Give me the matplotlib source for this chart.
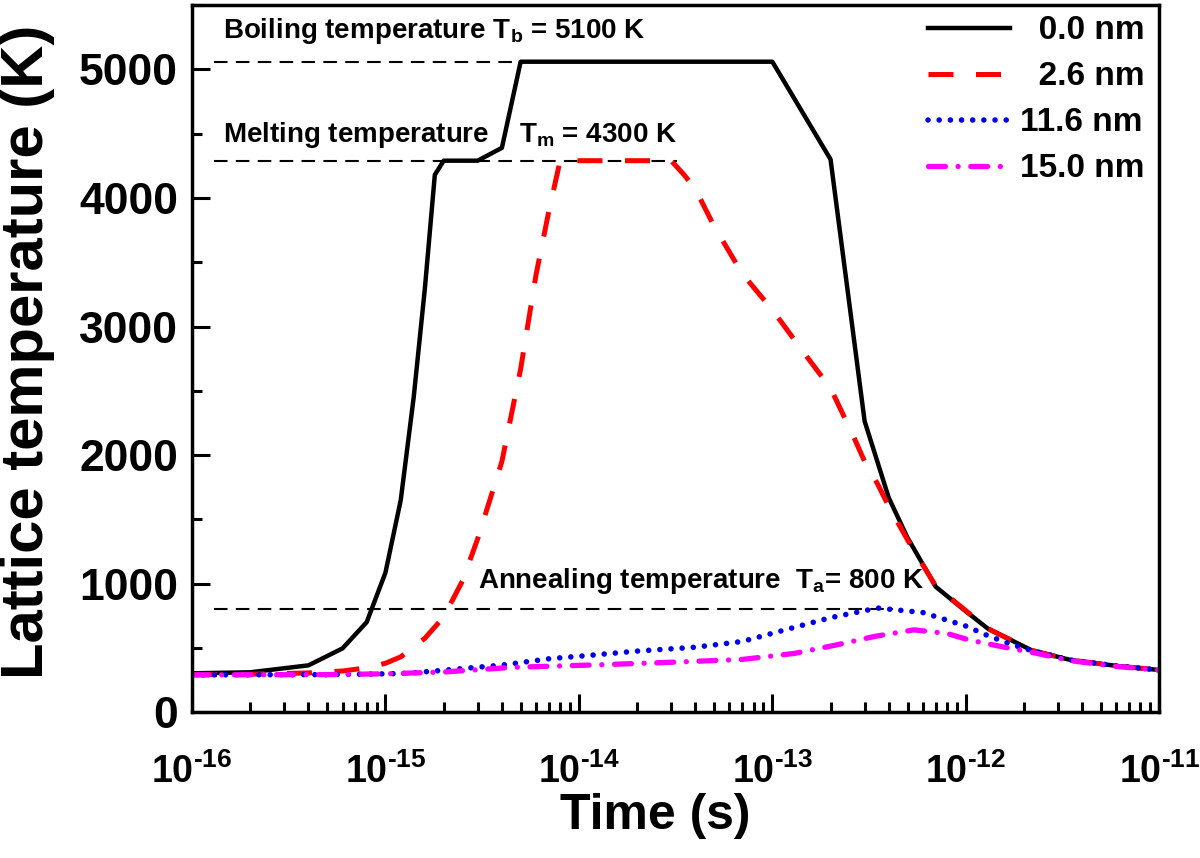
import numpy as np
import matplotlib
matplotlib.use('Agg')
import matplotlib.pyplot as plt
from matplotlib.ticker import LogLocator, MultipleLocator, FixedLocator, NullFormatter

plt.rcParams['font.family'] = ['Liberation Sans', 'DejaVu Sans']
plt.rcParams['font.weight'] = 'bold'
plt.rcParams['mathtext.fontset'] = 'custom'
plt.rcParams['mathtext.rm'] = 'Liberation Sans:bold'
plt.rcParams['mathtext.bf'] = 'Liberation Sans:bold'
plt.rcParams['mathtext.it'] = 'Liberation Sans:bold'

# Lattice temperature (K) vs time (s)
t_00 = [1e-16, 2e-16, 4e-16, 6e-16, 8e-16, 1e-15, 1.2e-15, 1.4e-15, 1.6e-15, 1.8e-15,
        2e-15, 3e-15, 4e-15, 5e-15, 1e-13, 2e-13, 3e-13, 4e-13, 5e-13, 7e-13,
        1e-12, 1.3e-12, 2.2e-12, 3.5e-12, 6e-12, 1e-11]
T_00 = [302, 310, 364, 496, 700, 1085, 1650, 2450, 3300, 4180,
        4290, 4290, 4390, 5060, 5060, 4300, 2264, 1667, 1357, 975,
        785, 650, 480, 405, 360, 328]

t_26 = [1e-16, 2e-16, 4e-16, 6e-16, 8e-16, 1e-15, 1.2e-15, 1.6e-15, 2e-15, 2.5e-15,
        3e-15, 4e-15, 5e-15, 6e-15, 7e-15, 8e-15, 3e-14, 3.5e-14, 4e-14, 5e-14,
        7e-14, 1e-13, 1.5e-13, 2e-13, 2.6e-13, 3e-13, 3.5e-13, 4e-13, 5e-13, 7e-13,
        1e-12, 1.3e-12, 2.2e-12, 3.5e-12, 6e-12, 1e-11]
T_26 = [290, 295, 305, 320, 345, 380, 430, 575, 740, 1020,
        1350, 1950, 2670, 3400, 3900, 4290, 4290, 4180, 4070, 3780,
        3410, 3130, 2770, 2520, 2160, 1950, 1775, 1600, 1340, 980,
        790, 650, 480, 405, 360, 328]

t_116 = [1e-16, 5e-16, 1e-15, 1.3e-15, 2e-15, 4e-15, 7e-15, 1.2e-14, 2e-14, 4e-14,
         7e-14, 1.1e-13, 2e-13, 3.5e-13, 6e-13, 1e-12, 1.3e-12, 1.7e-12, 2.2e-12,
         3.5e-12, 6e-12, 1e-11]
T_116 = [290, 292, 298, 302, 326, 366, 415, 445, 475, 505,
         550, 630, 735, 810, 775, 670, 595, 530, 478,
         405, 360, 328]

t_150 = [1e-16, 5e-16, 1e-15, 2e-15, 4.6e-15, 1.25e-14, 3e-14, 7e-14, 1.3e-13, 2.1e-13,
         3.4e-13, 5.4e-13, 8e-13, 1.05e-12, 1.65e-12, 2.2e-12, 3.5e-12, 6e-12, 1e-11]
T_150 = [290, 292, 298, 312, 349, 368, 388, 410, 457, 520,
         590, 640, 612, 560, 500, 465, 400, 356, 326]

labels = ['\u20070.0 nm', '\u20072.6 nm', '11.6 nm', '15.0 nm']
exponents = [-16, -15, -14, -13, -12, -11]

T_boil = 5060
T_melt = 4290
T_anneal = 800

fig = plt.figure(figsize=(12, 8.58), dpi=100)
ax = fig.add_axes([0.16, 0.17, 0.806, 0.824])

# reference temperature lines
ax.plot([1.3e-16, 3.2e-14], [T_boil, T_boil], color='black', lw=1.5, dashes=(6.5, 4))
ax.plot([1.3e-16, 3.2e-14], [T_melt, T_melt], color='black', lw=1.5, dashes=(6.5, 4))
ax.plot([1.3e-16, 4.2e-13], [T_anneal, T_anneal], color='black', lw=1.5, dashes=(6.5, 4))

ax.plot(t_00, T_00, color='black', lw=3.2, label=labels[0])
ax.plot(t_26, T_26, color='red', lw=3.6, dashes=(5, 4.5), label=labels[1])
ax.plot(t_116, T_116, color='#0000ee', lw=4, dashes=(0.01, 2.0), dash_capstyle='round',
        label=labels[2])
ax.plot(t_150, T_150, color='magenta', lw=3.8, dashes=(3.2, 2.4, 0.01, 2.4),
        dash_capstyle='round', label=labels[3])

ax.text(1.45e-16, 5248, 'Boiling temperature T$_\\mathbf{b}$ = 5100 K', fontsize=20,
        va='baseline', ha='left')
ax.text(1.45e-16, 4434, 'Melting temperature    T$_\\mathbf{m}$ = 4300 K', fontsize=20,
        va='baseline', ha='left')
ax.text(3.0e-15, 969, 'Annealing temperature  T$_\\mathbf{a}$= 800 K', fontsize=20,
        va='baseline', ha='left')

ax.set_xscale('log')
ax.set_xlim(1e-16, 1e-11)
ax.set_ylim(0, 5500)
ax.xaxis.set_major_locator(FixedLocator([10.0 ** e for e in exponents]))
ax.xaxis.set_minor_locator(LogLocator(base=10, subs=np.arange(2, 10), numticks=20))
ax.xaxis.set_minor_formatter(NullFormatter())
ax.set_xticklabels(['10$^{\\text{-}%d}$' % -e for e in exponents])
ax.yaxis.set_major_locator(MultipleLocator(1000))
ax.yaxis.set_minor_locator(MultipleLocator(500))

ax.tick_params(axis='both', which='both', direction='in', top=False, right=False)
ax.tick_params(axis='both', which='major', length=13, width=2.2)
ax.tick_params(axis='both', which='minor', length=7, width=2.2)
ax.tick_params(axis='y', which='major', labelsize=32, pad=10)
ax.tick_params(axis='x', which='major', labelsize=27, pad=30)
for s in ax.spines.values():
    s.set_linewidth(2.5)

ax.set_xlabel('Time (s)', fontsize=36, fontweight='bold')
ax.xaxis.set_label_coords(0.479, -0.115)
ax.set_ylabel('Lattice temperature (K)', fontsize=43, fontweight='bold')
ax.yaxis.set_label_coords(-0.142, 0.509)

leg = ax.legend(loc='upper right', bbox_to_anchor=(1.016, 1.028), frameon=False, fontsize=24,
                handlelength=2.45, handletextpad=0.3, labelspacing=0.45)

fig.savefig('out.png', dpi=100)
